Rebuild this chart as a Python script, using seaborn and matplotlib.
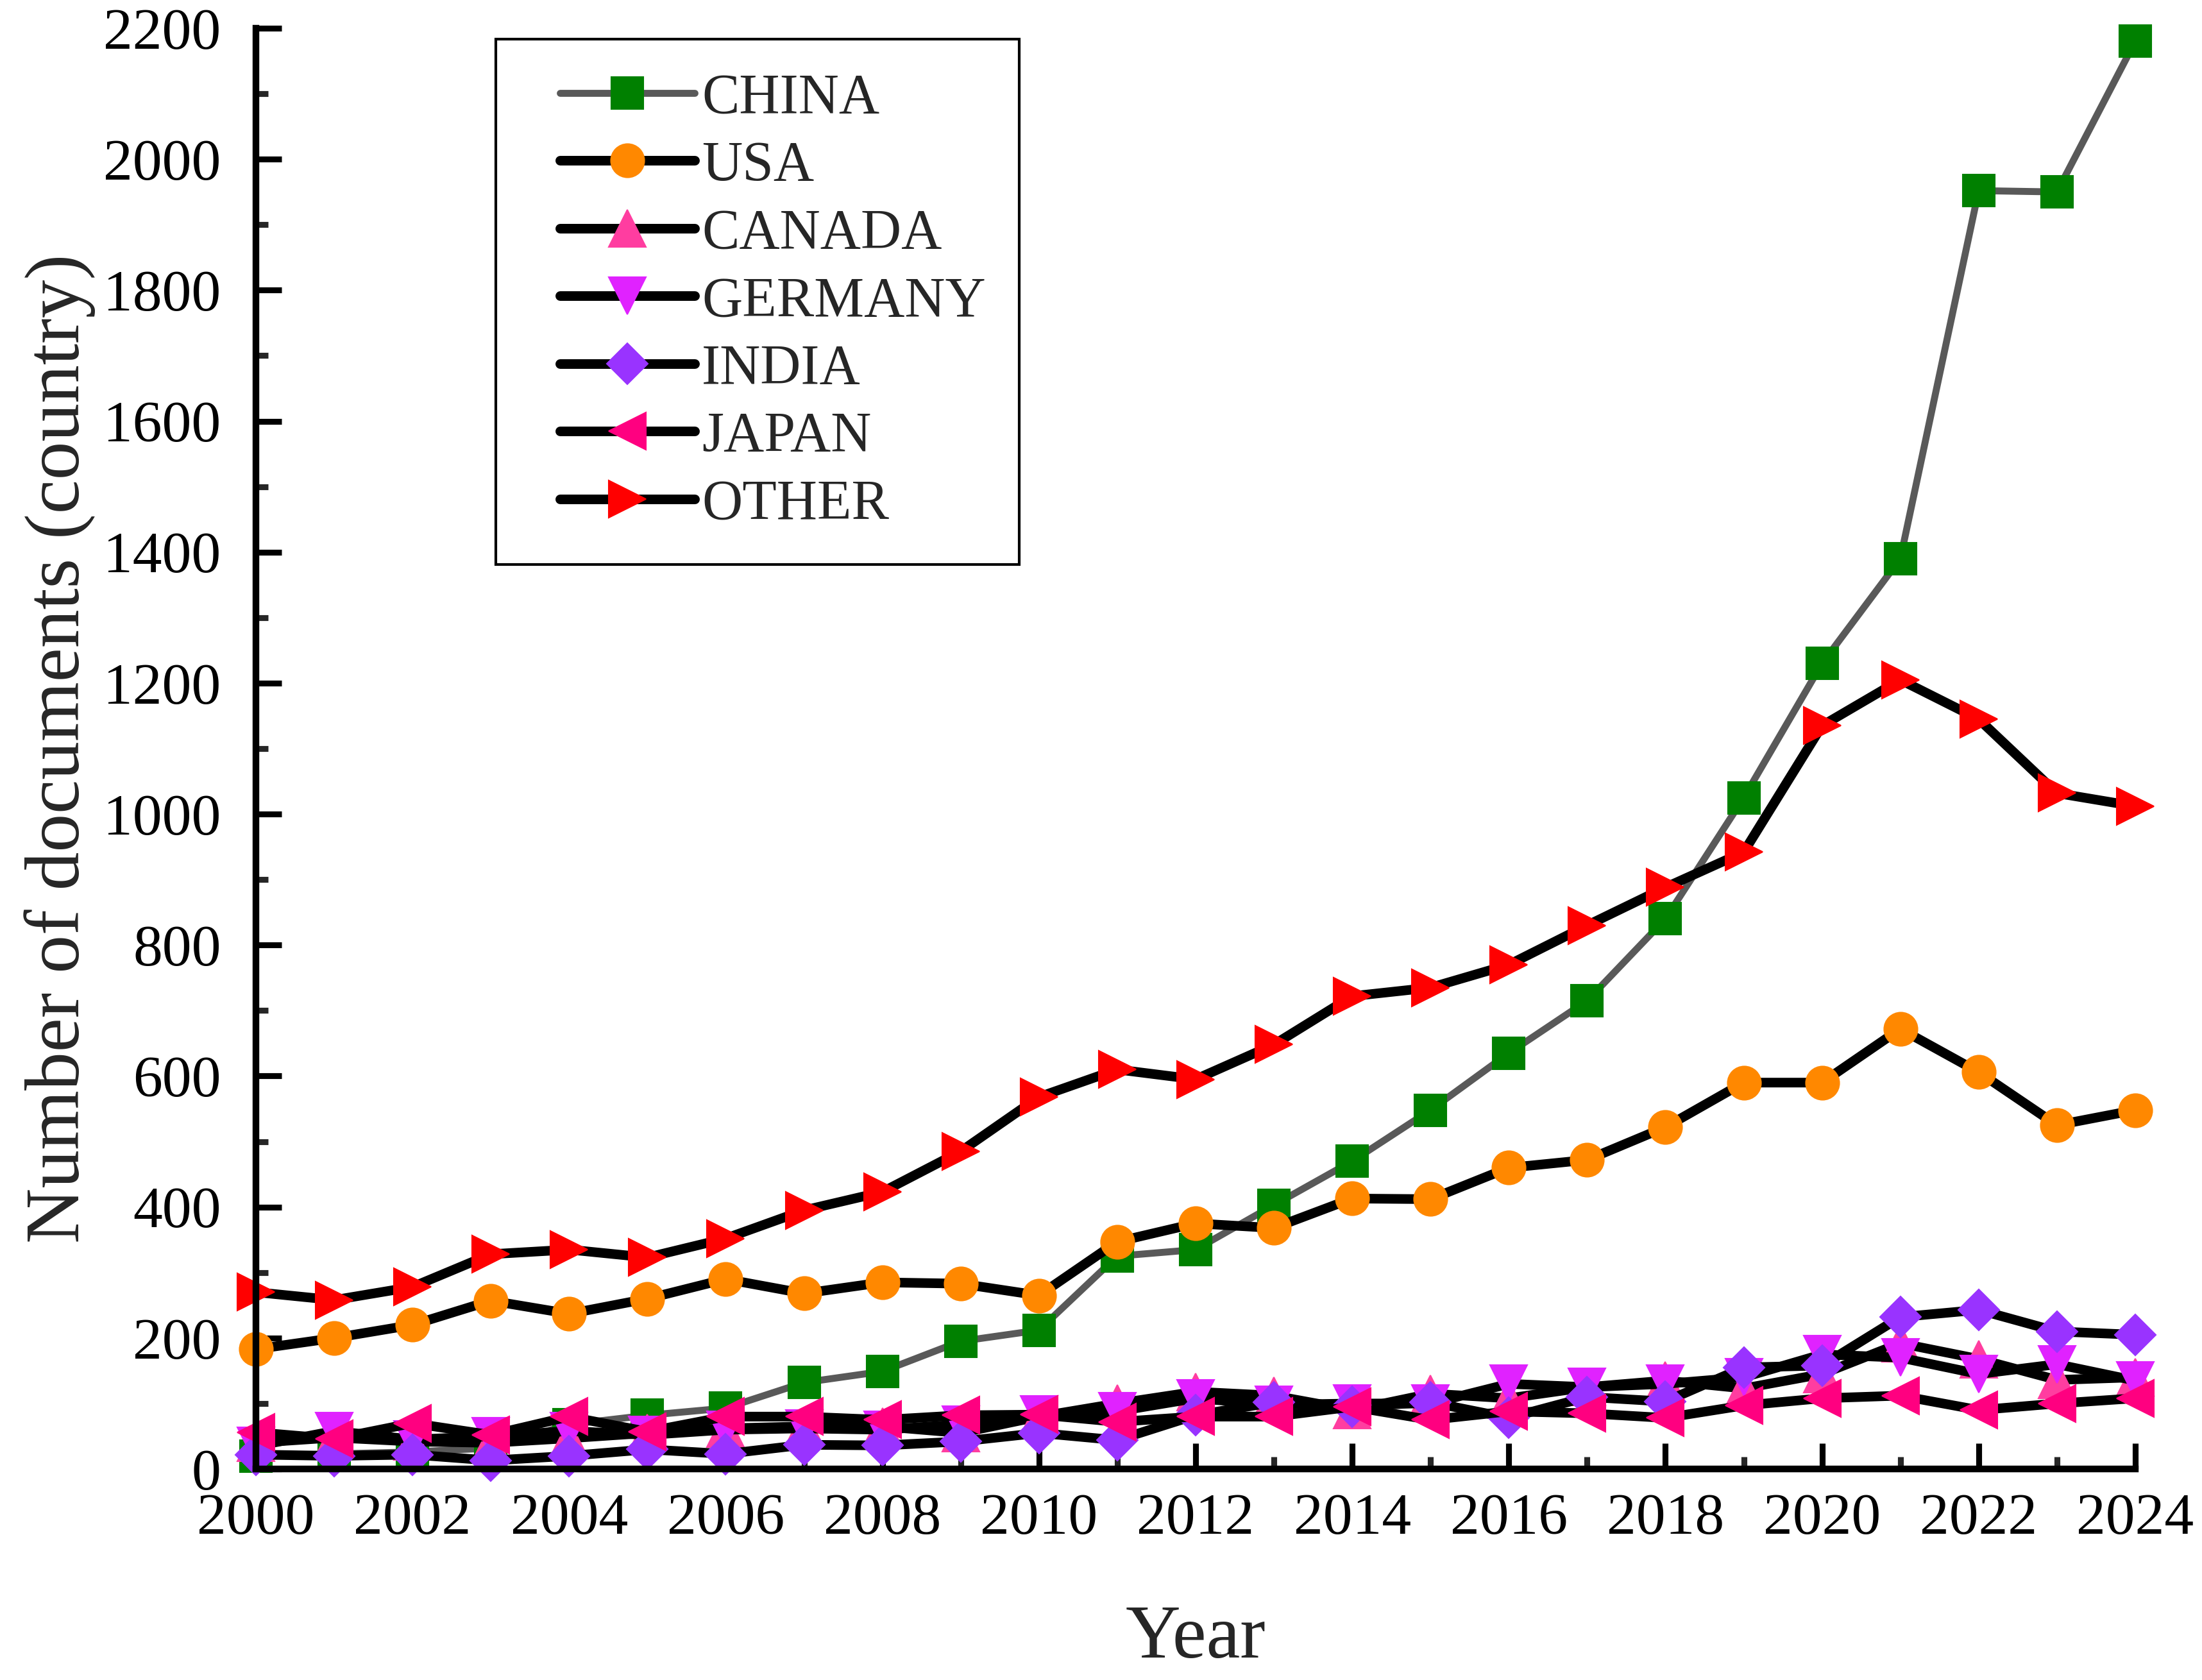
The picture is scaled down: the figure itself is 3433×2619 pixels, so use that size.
import numpy as np
import pandas as pd
import matplotlib
matplotlib.use("Agg")
import matplotlib.pyplot as plt
from matplotlib.ticker import MultipleLocator
from matplotlib.lines import Line2D
from matplotlib.legend_handler import HandlerLine2D
import seaborn as sns

years = list(range(2000, 2025))

china = [20, 23, 26, 32, 68, 82, 93, 132, 149, 195, 212, 325, 335, 403, 470,
         548, 635, 715, 840, 1025, 1230, 1390, 1952, 1950, 2180]
usa = [183, 200, 220, 257, 237, 260, 290, 268, 285, 283, 265, 347, 375, 368, 413,
       412, 460, 472, 522, 590, 590, 672, 606, 525, 548]
canada = [40, 48, 42, 40, 47, 55, 62, 65, 65, 55, 80, 100, 118, 112, 90,
          115, 108, 125, 135, 123, 145, 192, 168, 136, 140]
germany = [35, 58, 45, 50, 58, 52, 60, 62, 60, 68, 83, 88, 108, 98, 100,
           100, 130, 125, 130, 140, 175, 170, 145, 160, 135]
india = [22, 20, 22, 13, 20, 30, 23, 37, 36, 42, 55, 44, 82, 102, 95,
         102, 78, 110, 103, 155, 158, 232, 243, 210, 205]
japan = [56, 46, 70, 52, 80, 57, 80, 80, 75, 82, 83, 72, 80, 80, 95,
         75, 88, 85, 78, 97, 108, 112, 90, 100, 108]
other = [270, 258, 278, 328, 335, 323, 352, 395, 423, 485, 568, 610, 595, 648, 722,
         735, 770, 830, 888, 942, 1135, 1205, 1145, 1032, 1012]

names = ["CHINA", "USA", "CANADA", "GERMANY", "INDIA", "JAPAN", "OTHER"]
series = [china, usa, canada, germany, india, japan, other]
markers = ["s", "o", "^", "v", "D", "<", ">"]
face_colors = ["#008000", "#FF8800", "#FF3DA0", "#E022FF", "#9933FF", "#FF0080", "#FF0000"]
line_colors = ["#595959", "black", "black", "black", "black", "black", "black"]
line_widths = [2.6, 3.6, 3.6, 3.6, 3.6, 3.6, 3.6]
marker_sizes = [12, 12.5, 14, 14, 11, 14, 14]

sns.set_theme(style="ticks")
plt.rcParams["font.family"] = ["Liberation Serif", "DejaVu Serif"]
plt.rcParams["mathtext.fontset"] = "stix"

fig = plt.figure(figsize=(3433 / 300, 2619 / 300), dpi=300)
ax = fig.add_axes([0.1162, 0.1256, 0.8535, 0.8576])

for name, vals, mk, fc, lc, lw, ms in zip(names, series, markers, face_colors,
                                          line_colors, line_widths, marker_sizes):
    df = pd.DataFrame({"Year": years, "Count": vals})
    sns.lineplot(data=df, x="Year", y="Count", ax=ax, color=lc, linewidth=lw,
                 marker=mk, markersize=ms, markerfacecolor=fc, markeredgecolor=fc,
                 markeredgewidth=0.5, label=name, clip_on=False)

ax.set_xlim(2000, 2024)
ax.set_ylim(0, 2200)
ax.xaxis.set_major_locator(MultipleLocator(2))
ax.xaxis.set_minor_locator(MultipleLocator(1))
ax.yaxis.set_major_locator(MultipleLocator(200))
ax.yaxis.set_minor_locator(MultipleLocator(100))

for side in ["top", "right"]:
    ax.spines[side].set_visible(False)
for side in ["left", "bottom"]:
    ax.spines[side].set_linewidth(2.5)
    ax.spines[side].set_color("black")

ax.tick_params(axis="both", which="major", direction="in", length=9.5, width=2.2,
               labelsize=22, colors="black")
ax.tick_params(axis="both", which="minor", direction="in", length=4.5, width=2.2)
ax.tick_params(axis="x", which="major", pad=9)
ax.tick_params(axis="y", which="major", pad=13)

ax.set_xlabel("Year", fontsize=28.5, labelpad=22)
ax.set_ylabel("Number of documents (country)", fontsize=28.7, labelpad=3)

leg = ax.legend(loc="upper left", bbox_to_anchor=(0.1276, 0.9924), borderaxespad=0,
                fontsize=21, frameon=True, fancybox=False, edgecolor="black",
                handlelength=2.95, labelspacing=0.28, borderpad=0.6,
                handletextpad=0.12,
                handler_map={Line2D: HandlerLine2D(xpad=0.55)})
leg.get_frame().set_linewidth(1.0)
leg.get_frame().set_alpha(1)

fig.savefig("out.png", dpi=300)
plt.close(fig)
